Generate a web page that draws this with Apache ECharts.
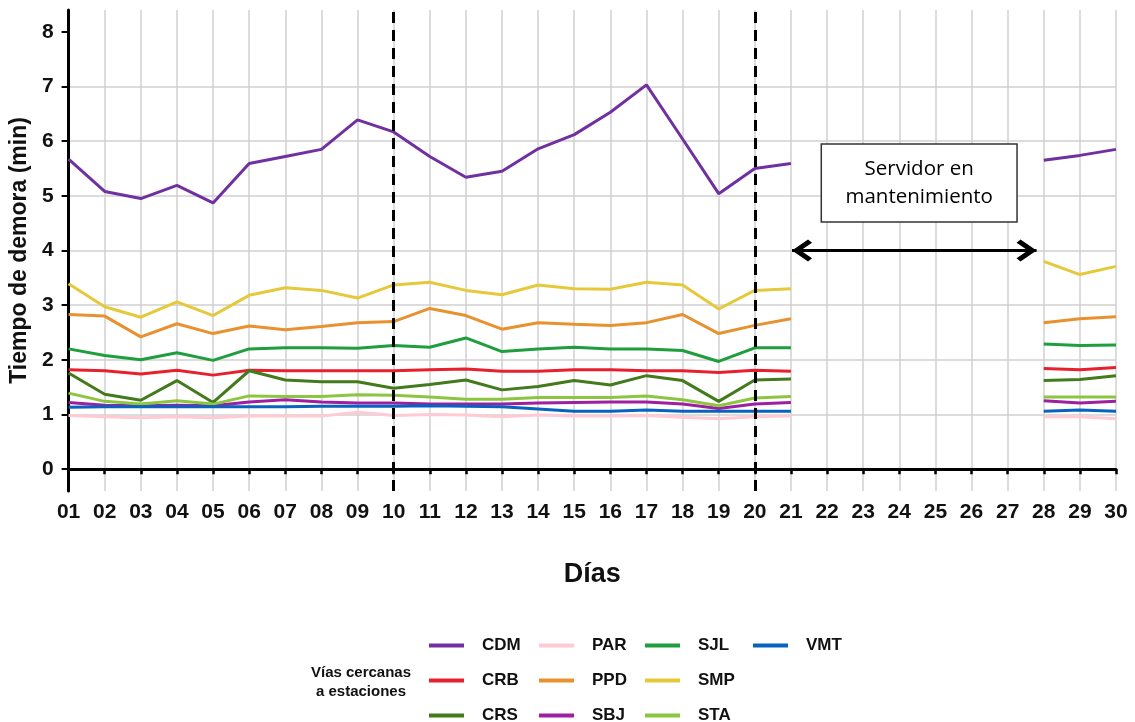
<!DOCTYPE html>
<html><head><meta charset="utf-8">
<script src="https://cdn.jsdelivr.net/npm/echarts@6/dist/echarts.min.js"></script>
<style>html,body{margin:0;padding:0;background:#fff}#c{width:1135px;height:722px}</style>
</head><body><div id="c"></div>
<script>
// ---- data ----
const days = ['01','02','03','04','05','06','07','08','09','10','11','12','13','14','15',
              '16','17','18','19','20','21','22','23','24','25','26','27','28','29','30'];
const yTicks = [0,1,2,3,4,5,6,7,8];
const CDM = [5.67,5.08,4.95,5.19,4.87,5.59,5.72,5.85,6.39,6.17,5.72,5.34,5.45,5.86,6.12,6.53,7.03,6.04,5.04,5.50,5.59,null,null,null,null,null,null,5.65,5.74,5.85];
const CRB = [1.82,1.80,1.74,1.81,1.72,1.81,1.80,1.80,1.80,1.80,1.82,1.83,1.79,1.79,1.82,1.82,1.80,1.80,1.77,1.81,1.79,null,null,null,null,null,null,1.84,1.82,1.86];
const CRS = [1.76,1.37,1.26,1.62,1.22,1.80,1.63,1.60,1.60,1.48,1.55,1.63,1.45,1.51,1.62,1.54,1.71,1.62,1.24,1.63,1.65,null,null,null,null,null,null,1.62,1.64,1.71];
const PAR = [0.98,0.96,0.94,0.96,0.94,0.97,0.97,0.97,1.04,0.98,1.00,0.99,0.96,0.99,0.97,0.97,0.98,0.95,0.92,0.96,0.97,null,null,null,null,null,null,0.96,0.96,0.92];
const PPD = [2.83,2.80,2.42,2.66,2.48,2.62,2.55,2.61,2.68,2.70,2.94,2.81,2.56,2.68,2.65,2.63,2.68,2.83,2.48,2.63,2.75,null,null,null,null,null,null,2.68,2.75,2.79];
const SBJ = [1.22,1.17,1.16,1.17,1.16,1.23,1.27,1.23,1.21,1.21,1.19,1.19,1.19,1.21,1.22,1.23,1.23,1.19,1.11,1.19,1.22,null,null,null,null,null,null,1.25,1.21,1.24];
const SJL = [2.20,2.08,2.00,2.13,1.99,2.20,2.22,2.22,2.21,2.26,2.23,2.40,2.15,2.20,2.23,2.20,2.20,2.17,1.97,2.22,2.22,null,null,null,null,null,null,2.29,2.26,2.27];
const SMP = [3.39,2.97,2.78,3.06,2.81,3.18,3.32,3.27,3.13,3.37,3.42,3.27,3.19,3.37,3.30,3.29,3.42,3.37,2.93,3.27,3.30,null,null,null,null,null,null,3.80,3.56,3.71];
const STA = [1.39,1.24,1.19,1.25,1.19,1.34,1.33,1.33,1.36,1.35,1.32,1.28,1.28,1.31,1.31,1.31,1.34,1.27,1.16,1.30,1.33,null,null,null,null,null,null,1.32,1.32,1.32];
const VMT = [1.13,1.14,1.14,1.14,1.14,1.14,1.14,1.15,1.15,1.15,1.16,1.15,1.14,1.10,1.06,1.06,1.08,1.06,1.06,1.06,1.06,null,null,null,null,null,null,1.06,1.08,1.06];

const seriesNames = ['CDM','CRB','CRS','PAR','PPD','SBJ','SJL','SMP','STA','VMT'];
const seriesData  = [CDM, CRB, CRS, PAR, PPD, SBJ, SJL, SMP, STA, VMT];
const seriesColors = ['#7030A0','#E8202E','#437A1C','#FFCAD4','#E8912E','#9E1FA0','#1E9E3C','#E5C93A','#8CC640','#0863C0'];

const dashedDays = [9, 19];          // day 10 and day 20 (index)
const arrowFrom = 20.03, arrowTo = 26.8, arrowY = 4;
const boxNote = 'Servidor en\nmantenimiento';
const boxX = [20.84, 26.26], boxY = [4.52, 5.95];
const legendCols = [['CDM','CRB','CRS'],['PAR','PPD','SBJ'],['SJL','SMP','STA'],['VMT']];

// ---- chart ----
const FONT = 'Liberation Sans';
const chevron = 'path://M12,0 L24,12 L20.5,15 L12,6.5 L3.5,15 L0,12 Z M12,-15 L12.02,-15 L12,-14.98 Z';

const series = seriesNames.map((n, i) => ({
  name: n, type: 'line', data: seriesData[i],
  symbol: 'none', showSymbol: false, connectNulls: false,
  lineStyle: { width: 3, color: seriesColors[i] },
  itemStyle: { color: seriesColors[i] },
  emphasis: { disabled: true }, z: 2 + i * 0.01
}));

series.push({
  name: '_annot', type: 'line', xAxisIndex: 1, data: [], z: 5, silent: true,
  markLine: {
    silent: true, symbol: ['none', 'none'], animation: false,
    label: { show: false },
    lineStyle: { color: '#000', width: 3, type: [11, 7] },
    data: dashedDays.map(d => ({ xAxis: d }))
  },
  markArea: {
    silent: true,
    itemStyle: { color: '#fff', borderColor: '#333', borderWidth: 1.5, opacity: 1 },
    label: { show: true, position: 'inside', color: '#000', fontFamily: 'Open Sans', fontSize: 20.5, lineHeight: 28 },
    data: [[{ name: boxNote, coord: [boxX[0], boxY[1]] }, { coord: [boxX[1], boxY[0]] }]]
  }
});
series.push({
  name: '_arrow', type: 'line', xAxisIndex: 1, data: [], z: 5, silent: true,
  markLine: {
    silent: true, animation: false,
    symbol: [chevron, chevron], symbolSize: [22, 40],
    label: { show: false },
    lineStyle: { color: '#000', width: 3, type: 'solid' },
    data: [[{ coord: [arrowFrom, arrowY] }, { coord: [arrowTo, arrowY] }]]
  }
});

const legendLeft = [429, 539, 645, 753];
const legends = legendCols.map((cols, k) => ({
  orient: 'vertical', left: legendLeft[k], top: 637, height: 120, padding: 0,
  data: cols, icon: 'rect', itemWidth: 35, itemHeight: 4, itemGap: 18,
  selectedMode: false,
  textStyle: { fontFamily: FONT, fontWeight: 'bold', fontSize: 17, color: '#111', lineHeight: 16, padding: [0, 0, 0, 13] }
}));

const chart = echarts.init(document.getElementById('c'), null, { renderer: 'canvas' });
chart.setOption({
  animation: false,
  backgroundColor: '#fff',
  color: seriesColors,
  title: {
    text: 'Vías cercanas\na estaciones', left: 356, top: 658, textAlign: 'center',
    textStyle: { fontFamily: FONT, fontWeight: 'bold', fontSize: 15, lineHeight: 19, color: '#111' }
  },
  legend: legends,
  grid: { left: 68, right: 19, top: 10, bottom: 231, containLabel: false },
  xAxis: [{
    type: 'category', data: days, boundaryGap: false,
    name: 'Días', nameLocation: 'middle', nameGap: 70,
    nameTextStyle: { fontFamily: FONT, fontWeight: 'bold', fontSize: 27, color: '#111' },
    axisLine: { lineStyle: { color: '#000', width: 3 } },
    axisTick: { show: true, interval: 0, length: 5, lineStyle: { color: '#000', width: 2.5 } },
    axisLabel: { interval: 0, margin: 11, fontFamily: FONT, fontWeight: 'bold', fontSize: 21, color: '#111' },
    splitLine: { show: true, interval: 0, lineStyle: { color: '#d0d0d0', width: 1.5 } }
  }, {
    type: 'value', min: 0, max: 29, show: false, position: 'bottom'
  }],
  yAxis: {
    type: 'value', min: -0.4, max: 8.4, splitNumber: 8,
    name: 'Tiempo de demora (min)', nameLocation: 'middle', nameGap: 28,
    nameTextStyle: { fontFamily: FONT, fontWeight: 'bold', fontSize: 23, color: '#111' },
    axisLine: { show: true, lineStyle: { color: '#000', width: 3 } },
    axisTick: { show: true, length: 7, customValues: yTicks, lineStyle: { color: '#000', width: 2 } },
    axisLabel: { margin: 15, customValues: yTicks, fontFamily: FONT, fontWeight: 'bold', fontSize: 21, color: '#111',
      formatter: v => String(v) },
    splitLine: { show: true, showMinLine: false, showMaxLine: false, lineStyle: { color: '#d0d0d0', width: 1.5 } }
  },
  series: series
});
</script>
</body></html>
